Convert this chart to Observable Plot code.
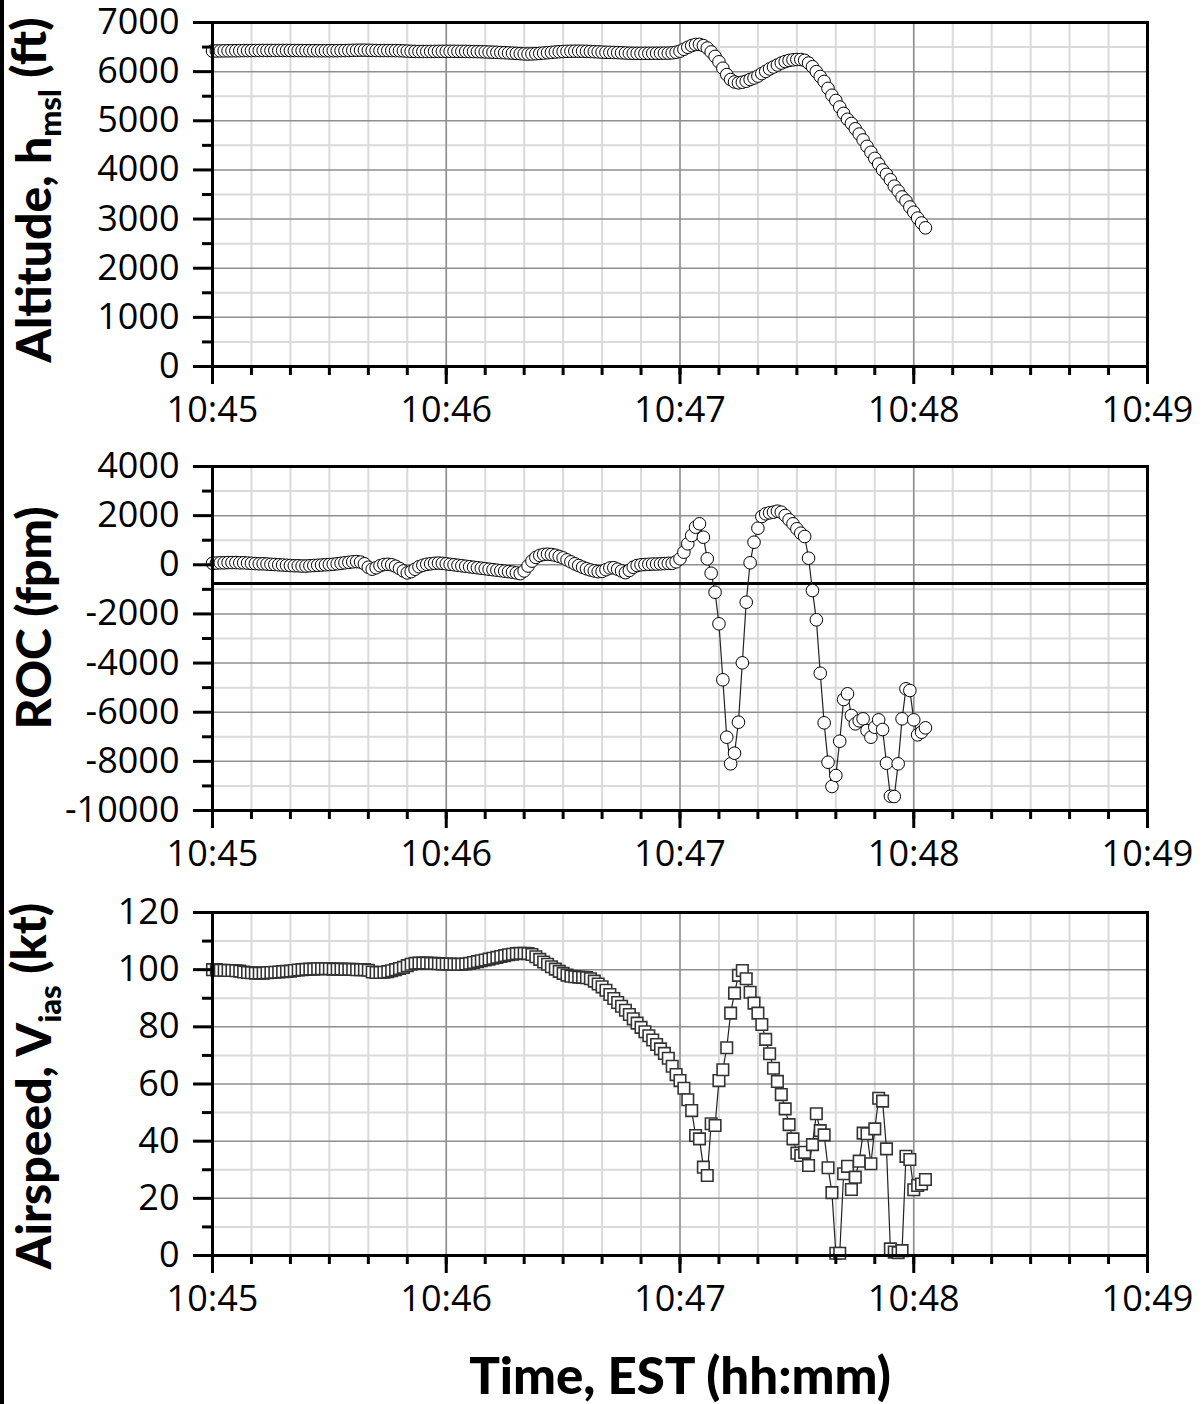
<!DOCTYPE html>
<html>
<head>
<meta charset="utf-8">
<script src="https://cdn.jsdelivr.net/npm/d3@7"></script>
<script src="https://cdn.jsdelivr.net/npm/@observablehq/plot@0.6"></script>
<style>
  html, body { margin: 0; padding: 0; background: white; }
  body { width: 1202px; height: 1404px; overflow: hidden; position: relative; }
  #chart svg { display: block; }
  #leftbar { position: absolute; left: 0; top: 0; width: 4px; height: 1404px; background: black; }
</style>
</head>
<body>
<div id="chart"></div>
<div id="leftbar"></div>
<script>
// ---- data (1 sample per second from 10:45:00) ----
const seconds = [0,1,2,3,4,5,6,7,8,9,10,11,12,13,14,15,16,17,18,19,20,21,22,23,24,25,26,27,28,29,30,31,32,33,34,35,36,37,38,39,40,41,42,43,44,45,46,47,48,49,50,51,52,53,54,55,56,57,58,59,60,61,62,63,64,65,66,67,68,69,70,71,72,73,74,75,76,77,78,79,80,81,82,83,84,85,86,87,88,89,90,91,92,93,94,95,96,97,98,99,100,101,102,103,104,105,106,107,108,109,110,111,112,113,114,115,116,117,118,119,120,121,122,123,124,125,126,127,128,129,130,131,132,133,134,135,136,137,138,139,140,141,142,143,144,145,146,147,148,149,150,151,152,153,154,155,156,157,158,159,160,161,162,163,164,165,166,167,168,169,170,171,172,173,174,175,176,177,178,179,180,181,182,183];

const altitude = [
6420,6421,6422,6423,6424,6425,6426,6427,6428,6428,
6429,6430,6430,6431,6431,6431,6431,6431,6431,6431,
6430,6430,6429,6428,6428,6427,6427,6426,6426,6426,
6426,6426,6427,6428,6429,6431,6433,6435,6437,6437,
6435,6432,6430,6429,6429,6429,6429,6428,6426,6423,
6418,6414,6411,6410,6410,6410,6411,6412,6413,6414,
6414,6414,6414,6413,6413,6412,6410,6409,6407,6405,
6402,6399,6396,6393,6389,6385,6381,6376,6371,6366,
6361,6359,6361,6365,6371,6378,6385,6392,6399,6405,
6410,6413,6415,6416,6416,6415,6413,6410,6406,6402,
6397,6394,6392,6390,6387,6384,6379,6375,6373,6373,
6373,6373,6373,6374,6374,6375,6376,6377,6382,6395,
6417,6455,6495,6530,6553,6555,6530,6480,6400,6310,
6200,6070,5940,5840,5790,5773,5785,5805,5840,5870,
5910,5960,6005,6055,6095,6135,6175,6205,6228,6240,
6247,6247,6230,6175,6100,6000,5900,5800,5660,5520,
5413,5280,5150,5030,4945,4837,4730,4610,4480,4360,
4235,4120,4000,3910,3800,3670,3570,3450,3370,3245,
3140,3020,2920,2822];

const roc = [
60,70,80,80,90,90,90,80,80,70,
60,50,40,40,30,20,10,0,-10,-20,
-30,-40,-40,-50,-50,-40,-30,-20,-10,0,
10,20,40,60,80,100,120,130,110,40,
-100,-180,-120,-40,10,20,0,-60,-150,-250,
-330,-280,-180,-80,-20,20,40,60,70,60,
40,20,0,-20,-40,-60,-80,-100,-120,-140,
-160,-180,-200,-220,-240,-260,-280,-300,-330,-360,
-250,-50,150,300,380,420,430,420,390,340,
280,200,120,40,-30,-100,-160,-210,-250,-280,
-270,-200,-130,-120,-180,-250,-320,-230,-100,-30,
0,10,20,30,30,40,50,60,60,120,
243,513,854,1192,1530,1668,1122,243,-343,-1116,
-2403,-4681,-7017,-8100,-7668,-6407,-3990,-1523,81,919,
1489,1965,2074,2115,2140,2181,2140,2006,1831,1668,
1465,1286,1151,268,-1047,-2240,-4413,-6432,-8035,-9024,
-8576,-7180,-5483,-5251,-6134,-6473,-6350,-6269,-6745,-7017,
-6610,-6310,-6704,-8075,-9418,-9431,-8100,-6269,-5047,-5116,
-6310,-6920,-6813,-6636];

const airspeed = [
100.0,100.0,99.8,99.8,99.7,99.7,99.6,99.5,99.2,99.0,
98.9,98.8,98.8,98.8,98.9,99.0,99.1,99.2,99.3,99.4,
99.5,99.7,99.9,100.0,100.1,100.2,100.2,100.3,100.3,100.3,
100.3,100.2,100.2,100.2,100.1,100.1,100.1,100.0,100.0,100.0,
99.8,99.2,99.0,99.0,99.1,99.3,99.6,100.0,100.4,100.8,
101.4,101.9,102.2,102.3,102.3,102.3,102.2,102.2,102.1,102.0,
102.0,102.0,101.9,101.9,101.9,102.0,102.2,102.5,102.8,103.1,
103.4,103.7,104.0,104.3,104.6,104.9,105.2,105.4,105.6,105.7,
105.7,105.6,105.3,104.5,103.6,102.7,101.9,101.0,100.2,99.4,
98.7,98.1,97.7,97.5,97.4,97.3,97.2,96.8,96.0,95.0,
94.0,92.8,91.3,89.9,88.5,87.2,85.8,84.3,82.8,81.3,
79.8,78.3,76.9,75.4,73.8,72.3,70.7,69.0,66.2,63.3,
61.2,58.5,54.5,50.7,42.0,40.8,30.9,28.0,46.1,45.5,
61.2,65.0,72.7,84.8,91.8,98.0,99.7,96.8,92.1,88.3,
84.8,80.8,75.6,70.6,65.5,60.9,56.3,51.3,45.8,40.8,
35.8,35.0,36.1,31.5,38.8,49.6,43.7,42.2,30.7,22.0,
0.8,0.8,28.6,31.2,23.1,27.4,33.0,42.8,42.6,32.1,
44.3,55.0,54.0,37.3,2.3,1.2,1.0,1.7,34.7,33.6,
23.0,24.5,25.0,26.6];

// ---- ticks ----
const xTickLabels = ["10:45", "10:46", "10:47", "10:48", "10:49"];
const xMajorTicks = [0, 60, 120, 180, 240];
const xMinorTicks = [0,10,20,30,40,50,60,70,80,90,100,110,120,130,140,150,160,170,180,190,200,210,220,230,240];

const altMajor = [0,1000,2000,3000,4000,5000,6000,7000];
const altMinor = [500,1500,2500,3500,4500,5500,6500];
const rocMajor = [-10000,-8000,-6000,-4000,-2000,0,2000,4000];
const rocMinor = [-9000,-7000,-5000,-3000,-1000,1000,3000];
const rocReference = [-760];
const iasMajor = [0,20,40,60,80,100,120];
const iasMinor = [10,30,50,70,90,110];

const rows = seconds.map((s, i) => ({s, alt: altitude[i], roc: roc[i], ias: airspeed[i]}));

function panel({yKey, domain, major, minor, height, marginTop, marginBottom, symbol, extra = []}) {
  return Plot.plot({
    width: 1202, height,
    marginLeft: 212, marginRight: 55, marginTop, marginBottom,
    style: {fontFamily: "'Open Sans', sans-serif", fontSize: "36px", background: "white", color: "black", overflow: "visible"},
    x: {domain: [0, 240], axis: null, label: null},
    y: {domain, axis: null, label: null},
    marks: [
      Plot.ruleY(minor, {stroke: "#dadada", strokeWidth: 2}),
      Plot.ruleX(xMinorTicks, {stroke: "#dadada", strokeWidth: 2}),
      Plot.ruleY(major, {stroke: "#8f8f8f", strokeWidth: 1.5}),
      Plot.ruleX(xMajorTicks, {stroke: "#8f8f8f", strokeWidth: 1.5}),
      ...extra,
      Plot.line(rows, {x: "s", y: yKey, stroke: "#222", strokeWidth: 1.2}),
      Plot.dot(rows, {x: "s", y: yKey, r: symbol === "square" ? 6.5 : 6.3, symbol,
        fill: "white", stroke: symbol === "square" ? "#333" : "black", strokeWidth: symbol === "square" ? 1.6 : 1}),
      Plot.frame({stroke: "black", strokeWidth: 3}),
      Plot.axisY({ticks: minor, tickSize: 10, tickFormat: () => "", strokeWidth: 3}),
      Plot.axisY({ticks: major, tickSize: 19, tickPadding: 14, tickFormat: d => String(d), strokeWidth: 3, fontSize: 36}),
      Plot.axisX({ticks: xMinorTicks, tickSize: 9, tickFormat: () => "", strokeWidth: 3}),
      Plot.axisX({ticks: xMajorTicks, tickSize: 18, tickPadding: 12, tickFormat: d => xTickLabels[d / 60], strokeWidth: 3, fontSize: 36})
    ]
  });
}

const titleFont = "Lato, 'Open Sans', sans-serif";

function addYTitle(svgEl, cy, main, sub, tail) {
  const t = d3.select(svgEl).append("text")
    .attr("transform", `translate(51,${cy}) rotate(-90)`)
    .attr("text-anchor", "middle")
    .style("font-family", titleFont)
    .style("font-weight", "900")
    .style("font-size", "48px")
    .attr("fill", "black");
  t.append("tspan").text(main);
  if (sub) {
    t.append("tspan").attr("dy", "0.32em").style("font-size", "31px").text(sub);
    t.append("tspan").attr("dy", "-0.32em").text(tail);
  }
}

const chart = document.getElementById("chart");

const p1 = panel({yKey: "alt", domain: [0, 7000], major: altMajor, minor: altMinor, height: 444, marginTop: 22, marginBottom: 78, symbol: "circle"});
addYTitle(p1, 190, "Altitude, h", "msl", " (ft)");
chart.appendChild(p1);

const p2 = panel({yKey: "roc", domain: [-10000, 4000], major: rocMajor, minor: rocMinor, height: 444, marginTop: 22, marginBottom: 78, symbol: "circle",
  extra: [Plot.ruleY(rocReference, {stroke: "black", strokeWidth: 3})]});
addYTitle(p2, 174, "ROC (fpm)");
chart.appendChild(p2);

const p3 = panel({yKey: "ias", domain: [0, 120], major: iasMajor, minor: iasMinor, height: 516, marginTop: 24, marginBottom: 149, symbol: "square"});
addYTitle(p3, 198, "Airspeed, V", "ias", " (kt)");
d3.select(p3).append("text")
  .attr("x", 680).attr("y", 506)
  .attr("text-anchor", "middle")
  .style("font-family", titleFont)
  .style("font-weight", "900")
  .style("font-size", "51px")
  .attr("fill", "black")
  .text("Time, EST (hh:mm)");
chart.appendChild(p3);
</script>
</body>
</html>
